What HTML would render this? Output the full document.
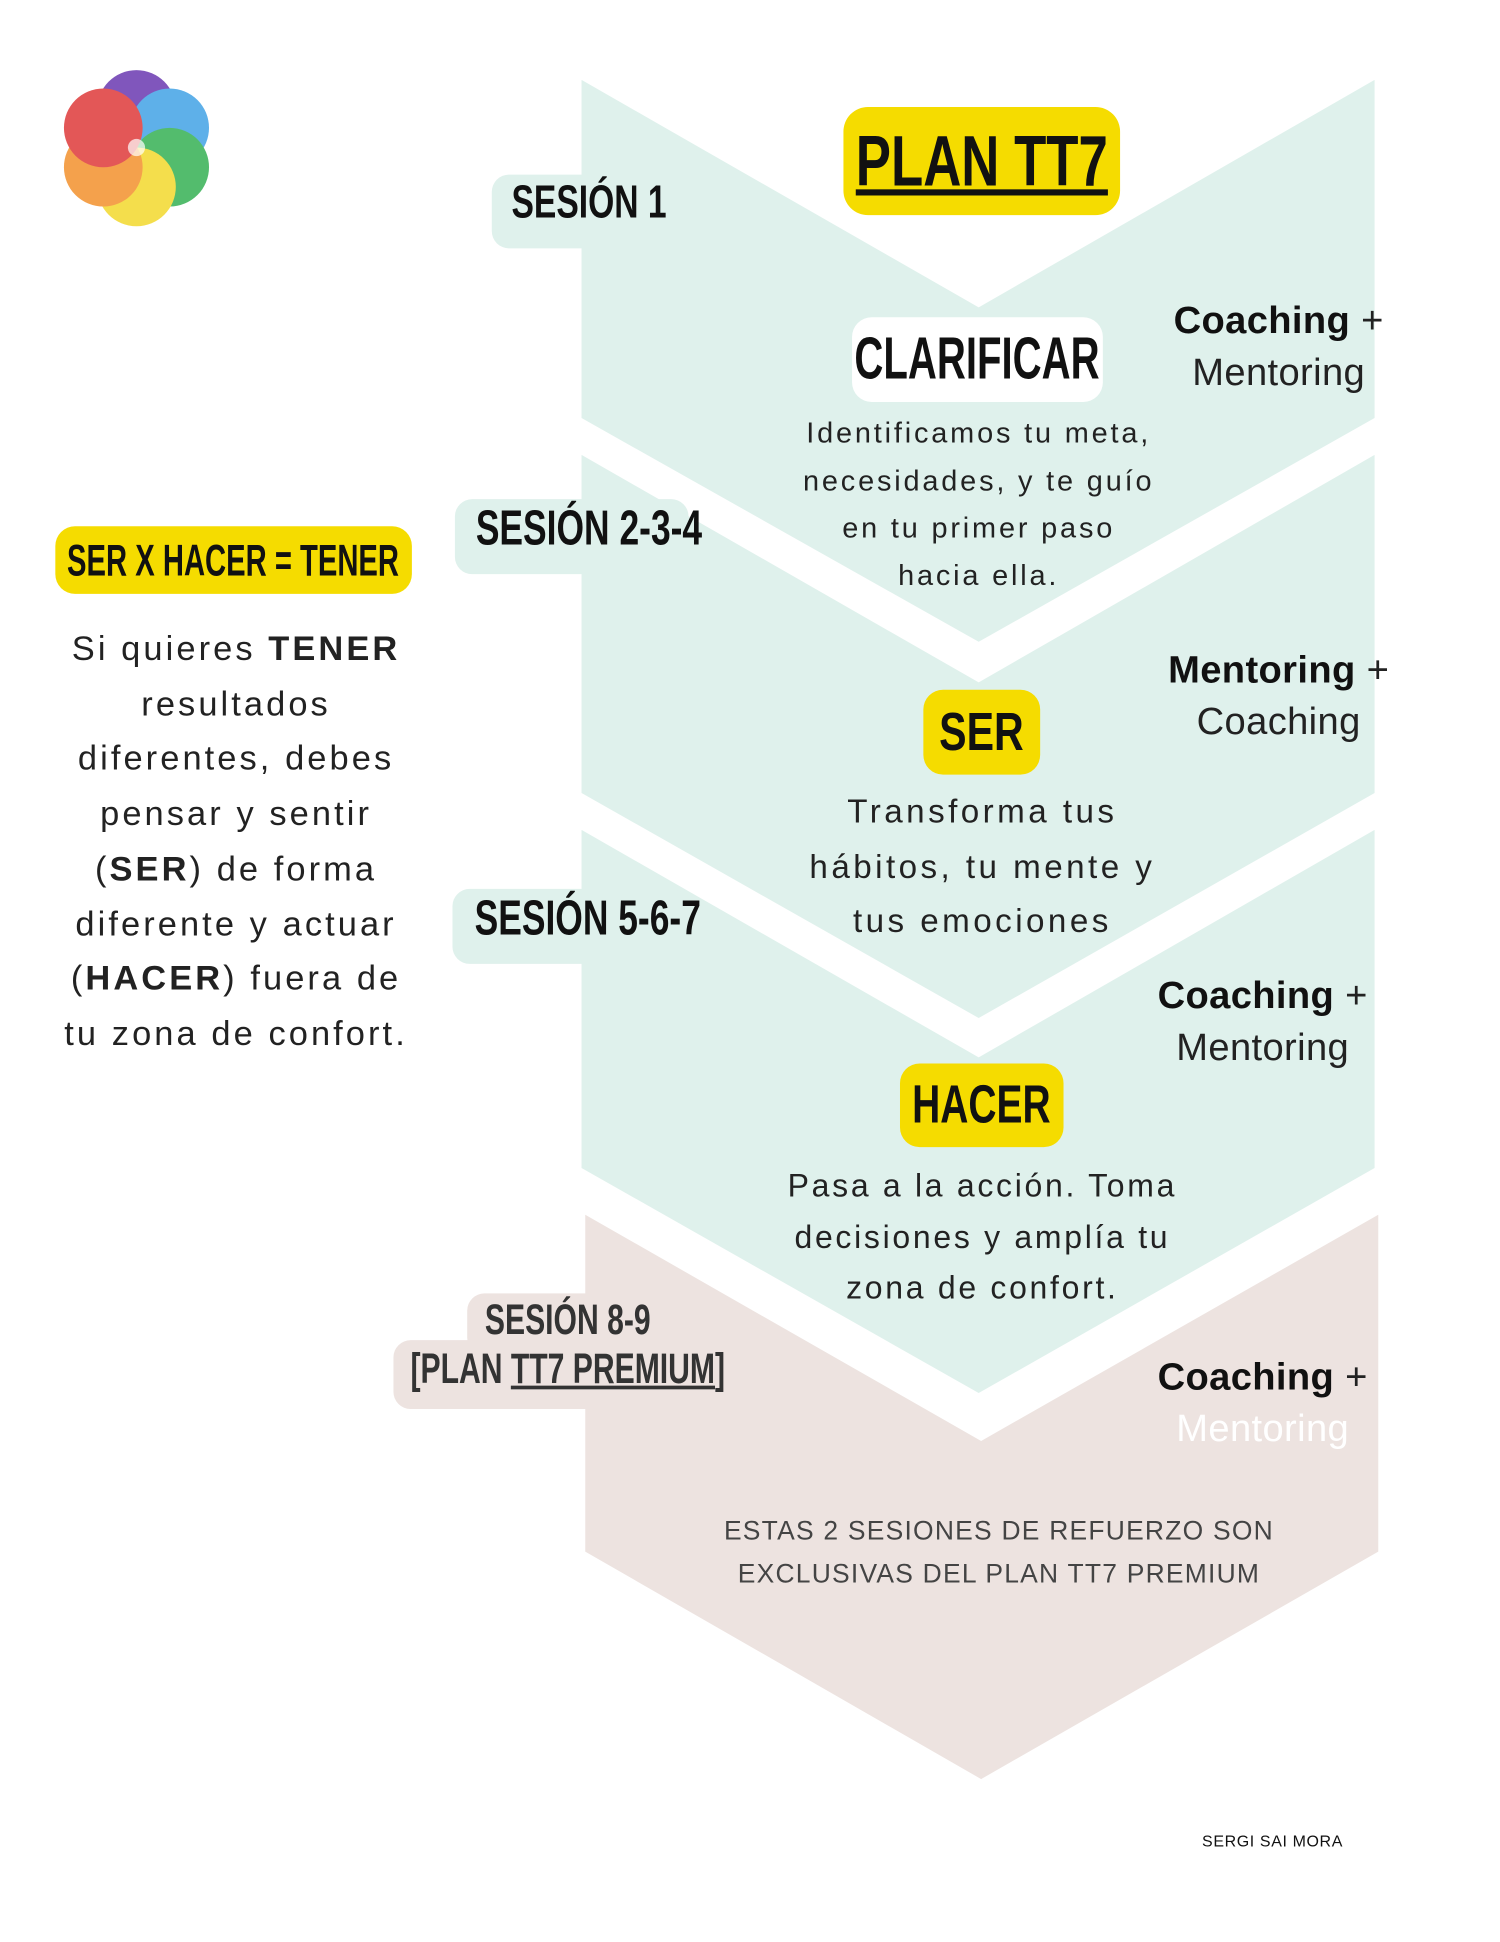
<!DOCTYPE html>
<html><head><meta charset="utf-8"><style>
html,body{margin:0;padding:0;background:#fff;}
#w{width:1500px;height:1942px;overflow:hidden;position:relative;}
#s{position:absolute;left:0;top:0;width:1220px;height:1579px;transform:scale(1.2295);transform-origin:0 0;}
.a{position:absolute;}
.h{font-family:"Liberation Sans",sans-serif;font-weight:bold;color:#111;white-space:nowrap;}
.h span{display:inline-block;}
.t{font-family:"Liberation Sans",sans-serif;color:#222;text-align:center;letter-spacing:1px;}
.box{position:absolute;display:flex;align-items:center;justify-content:center;border-radius:16px;}
</style></head><body><div id="w"><div id="s">
<svg class="a" style="left:0;top:0" width="1220" height="1579">
<polygon points="473,65 796,250 1118,65 1118,340 796,522 473,340" fill="#dff1ec"/>
<polygon points="473,370 796,555 1118,370 1118,645 796,828 473,645" fill="#dff1ec"/>
<polygon points="473,675 796,860 1118,675 1118,950 796,1133 473,950" fill="#dff1ec"/>
<polygon points="476,988 798,1172 1121,988 1121,1262 798,1447 476,1262" fill="#ede3e0"/>
<rect x="400" y="142" width="90" height="60" rx="14" fill="#dff1ec"/>
<rect x="370" y="406" width="190" height="61" rx="14" fill="#dff1ec"/>
<rect x="368" y="723" width="192" height="61" rx="14" fill="#dff1ec"/>
<rect x="380" y="1052" width="200" height="50" rx="14" fill="#ede3e0"/>
<rect x="320" y="1090" width="266" height="56" rx="14" fill="#ede3e0"/>
<g opacity="0.7">
<circle cx="111" cy="89" r="32" fill="#4b0fa0"/>
<circle cx="138" cy="104" r="32" fill="#1a8fe0"/>
<circle cx="138" cy="136" r="32" fill="#0aa030"/>
<circle cx="111" cy="152" r="32" fill="#f0d000"/>
<circle cx="84" cy="136" r="32" fill="#f07a00"/>
<circle cx="84" cy="104" r="32" fill="#d81010"/>
</g>
<circle cx="111" cy="120" r="7" fill="#fff" opacity="0.7"/>
</svg>
<div class="a h" style="left:416px;top:144px;font-size:38px;"><span style="transform:scaleX(0.72);transform-origin:0 0">SESIÓN 1</span></div>
<div class="a h" style="left:387px;top:408px;font-size:40px;"><span style="transform:scaleX(0.72);transform-origin:0 0">SESIÓN 2-3-4</span></div>
<div class="a h" style="left:386px;top:725px;font-size:40px;"><span style="transform:scaleX(0.72);transform-origin:0 0">SESIÓN 5-6-7</span></div>
<div class="a h" style="left:262px;top:1054px;width:400px;text-align:center;font-size:35px;color:#333;line-height:40px;"><span style="transform:scaleX(0.70);transform-origin:50% 0;">SESIÓN 8-9<br>[PLAN <u>TT7 PREMIUM</u>]</span></div>
<div class="box h" style="left:686px;top:87px;width:225px;height:88px;background:#f5dc00;border-radius:20px;font-size:58px;"><span style="transform:scaleX(0.74)"><u>PLAN TT7</u></span></div>
<div class="box h" style="left:693px;top:258px;width:204px;height:69px;background:#fff;font-size:48px;"><span style="transform:scaleX(0.68)">CLARIFICAR</span></div>
<div class="box h" style="left:751px;top:561px;width:95px;height:69px;background:#f5dc00;font-size:44px;"><span style="transform:scaleX(0.76)">SER</span></div>
<div class="box h" style="left:732px;top:865px;width:133px;height:68px;background:#f5dc00;font-size:44px;"><span style="transform:scaleX(0.72)">HACER</span></div>
<div class="box h" style="left:45px;top:428px;width:290px;height:55px;background:#f5dc00;font-size:36px;"><span style="transform:scaleX(0.66)">SER X HACER = TENER</span></div>
<div class="a t" style="left:42px;top:506px;width:300px;font-size:28px;line-height:44.7px;letter-spacing:2.5px;">Si quieres <b>TENER</b> resultados diferentes, debes pensar y sentir (<b>SER</b>) de forma diferente y actuar (<b>HACER</b>) fuera de tu zona de confort.</div>
<div class="a t" style="left:651px;top:333px;width:290px;font-size:23.5px;line-height:38.5px;letter-spacing:2.3px;">Identificamos tu meta, necesidades, y te guío en tu primer paso hacia ella.</div>
<div class="a t" style="left:640px;top:638px;width:318px;font-size:27px;line-height:44.7px;letter-spacing:2.8px;">Transforma tus hábitos, tu mente y tus emociones</div>
<div class="a t" style="left:628px;top:944px;width:342px;font-size:26px;line-height:41.7px;letter-spacing:2.2px;">Pasa a la acción. Toma decisiones y amplía tu zona de confort.</div>
<div class="a t" style="left:940px;top:240px;width:200px;font-size:31px;line-height:42px;letter-spacing:0.3px;"><b style="color:#111">Coaching</b> +<br>Mentoring</div>
<div class="a t" style="left:930px;top:524px;width:220px;font-size:31px;line-height:42px;letter-spacing:0.3px;"><b style="color:#111">Mentoring</b> +<br>Coaching</div>
<div class="a t" style="left:922px;top:789px;width:210px;font-size:31px;line-height:42px;letter-spacing:0.3px;"><b style="color:#111">Coaching</b> +<br>Mentoring</div>
<div class="a t" style="left:922px;top:1099px;width:210px;font-size:31px;line-height:42px;letter-spacing:0.3px;"><b style="color:#111">Coaching</b> +<br><span style="color:#fff">Mentoring</span></div>
<div class="a t" style="left:560px;top:1228px;width:505px;font-size:21.5px;line-height:35px;color:#444;">ESTAS 2 SESIONES DE REFUERZO SON EXCLUSIVAS DEL PLAN TT7 PREMIUM</div>
<div class="a t" style="left:940px;top:1490px;width:190px;font-size:13px;letter-spacing:0.5px;color:#111;">SERGI SAI MORA</div>
</div></div></body></html>
